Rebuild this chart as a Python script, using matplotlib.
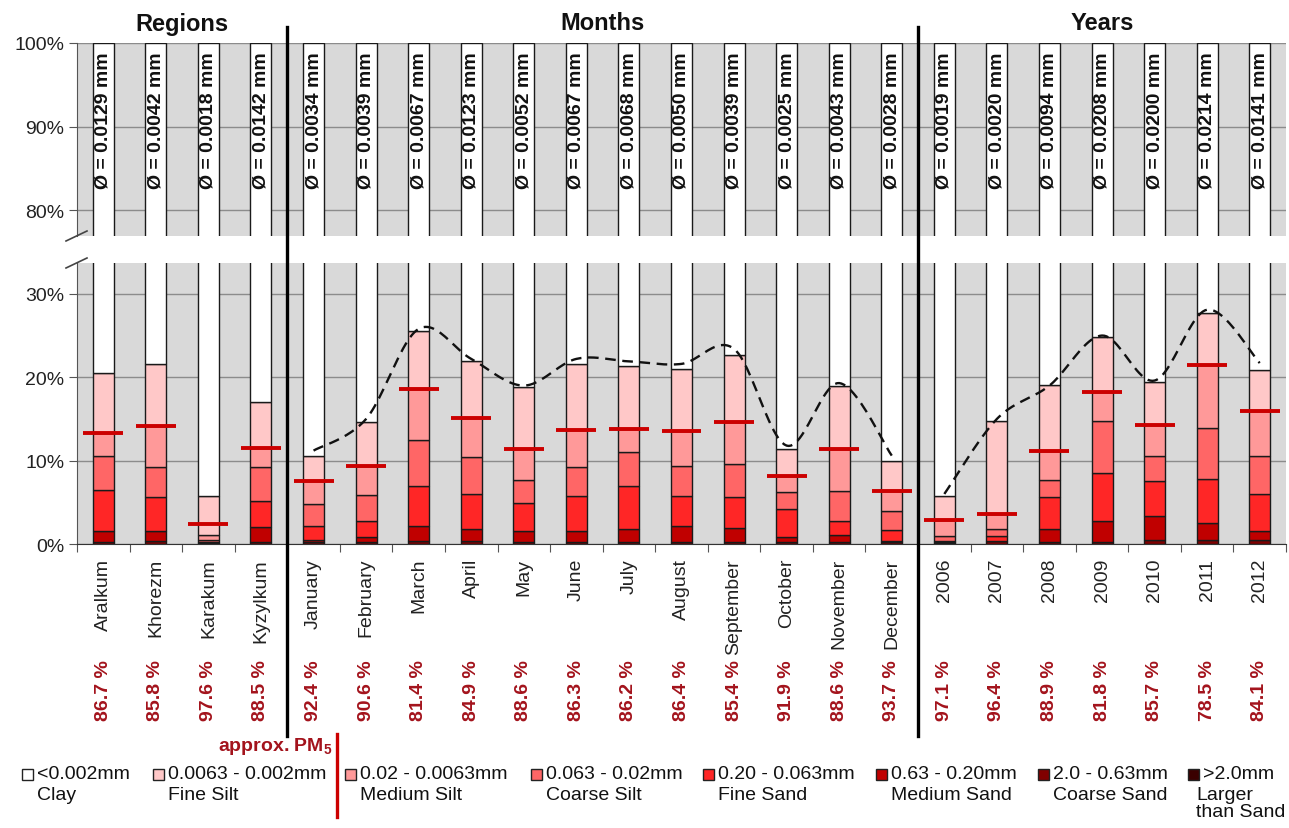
import numpy as np
import matplotlib
matplotlib.use("Agg")
import matplotlib.pyplot as plt
from matplotlib.patches import Rectangle
from matplotlib.lines import Line2D
from matplotlib.transforms import blended_transform_factory

plt.rcParams['font.family'] = ['Liberation Sans', 'DejaVu Sans']
plt.rcParams['mathtext.fontset'] = 'custom'
plt.rcParams['mathtext.rm'] = 'Liberation Sans'
plt.rcParams['mathtext.bf'] = 'Liberation Sans:bold'

# ---------------------------------------------------------------- data
categories = ['Aralkum', 'Khorezm', 'Karakum', 'Kyzylkum',
              'January', 'February', 'March', 'April', 'May', 'June', 'July',
              'August', 'September', 'October', 'November', 'December',
              '2006', '2007', '2008', '2009', '2010', '2011', '2012']
group_names = ['Regions', 'Months', 'Years']
group_sizes = [4, 12, 7]

# grain-size fractions in % (coarsest first)
larger_than_sand = [0.05, 0.05, 0.02, 0.05, 0.05, 0.05, 0.05, 0.05, 0.05, 0.05, 0.05, 0.05,
                    0.05, 0.05, 0.05, 0.05, 0.05, 0.05, 0.05, 0.05, 0.05, 0.05, 0.05]
coarse_sand = [0.15, 0.25, 0.03, 0.15, 0.15, 0.15, 0.25, 0.25, 0.15, 0.15, 0.15, 0.15,
               0.15, 0.15, 0.15, 0.15, 0.10, 0.25, 0.15, 0.15, 0.40, 0.40, 0.40]
medium_sand = [1.4, 1.3, 0.05, 1.8, 0.3, 0.6, 1.9, 1.5, 1.4, 1.4, 1.6, 1.9,
               1.7, 0.6, 0.9, 0.2, 0.1, 0.1, 1.6, 2.5, 2.85, 2.05, 1.05]
fine_sand = [4.9, 4.0, 0.1, 3.2, 1.6, 1.9, 4.8, 4.2, 3.3, 4.2, 5.2, 3.7,
             3.7, 3.4, 1.7, 1.3, 0.15, 0.6, 3.8, 5.8, 4.2, 5.3, 4.5]
coarse_silt = [4.0, 3.6, 0.3, 4.0, 2.7, 3.2, 5.5, 4.4, 2.8, 3.4, 4.0, 3.5,
               4.0, 2.0, 3.5, 2.3, 0.6, 0.8, 2.1, 6.2, 3.1, 6.1, 4.5]
medium_silt = [2.8, 5.0, 0.6, 2.3, 2.8, 3.5, 6.1, 4.7, 3.7, 4.5, 2.8, 4.3,
               5.0, 1.9, 5.1, 2.3, 1.9, 1.8, 3.4, 3.5, 3.7, 7.6, 5.4]
fine_silt = [7.2, 7.4, 4.6, 5.5, 3.0, 5.2, 6.9, 6.8, 7.4, 7.9, 7.5, 7.4,
             8.1, 3.3, 7.5, 3.6, 2.8, 11.1, 8.0, 6.6, 5.1, 6.2, 5.0]

# share of particles finer than approx. PM5 (%)
pm5_share = [86.7, 85.8, 97.6, 88.5, 92.4, 90.6, 81.4, 84.9, 88.6, 86.3, 86.2, 86.4,
             85.4, 91.9, 88.6, 93.7, 97.1, 96.4, 88.9, 81.8, 85.7, 78.5, 84.1]

# mean grain diameter (mm)
mean_diameter = [0.0129, 0.0042, 0.0018, 0.0142, 0.0034, 0.0039, 0.0067, 0.0123,
                 0.0052, 0.0067, 0.0068, 0.0050, 0.0039, 0.0025, 0.0043, 0.0028,
                 0.0019, 0.0020, 0.0094, 0.0208, 0.0200, 0.0214, 0.0141]

# trend of the non-clay share for months and years (%)
month_trend = [11.2, 15.0, 25.8, 22.2, 19.0, 22.2, 21.9, 21.6, 23.4, 11.8, 19.3, 10.6]
year_trend = [6.0, 15.0, 19.0, 25.0, 19.6, 28.1, 21.7]

fractions = [larger_than_sand, coarse_sand, medium_sand, fine_sand,
             coarse_silt, medium_silt, fine_silt]
frac_colors = ['#3A0000', '#800000', '#C00000', '#FF2626',
               '#FF6666', '#FF9999', '#FFC8C8']

legend_entries = [
    ('<0.002mm', 'Clay', '#FFFFFF'),
    ('0.0063 - 0.002mm', 'Fine Silt', '#FFC8C8'),
    ('0.02 - 0.0063mm', 'Medium Silt', '#FF9999'),
    ('0.063 - 0.02mm', 'Coarse Silt', '#FF6666'),
    ('0.20 - 0.063mm', 'Fine Sand', '#FF2626'),
    ('0.63 - 0.20mm', 'Medium Sand', '#C00000'),
    ('2.0 - 0.63mm', 'Coarse Sand', '#800000'),
    ('>2.0mm', 'Larger\nthan Sand', '#3A0000'),
]


def catmull_rom(xs, ys, n=24):
    pts = np.column_stack([xs, ys]).astype(float)
    p = np.vstack([pts[0], pts, pts[-1]])
    out = []
    t = np.linspace(0, 1, n, endpoint=False)[:, None]
    for i in range(1, len(p) - 2):
        p0, p1, p2, p3 = p[i - 1], p[i], p[i + 1], p[i + 2]
        seg = 0.5 * (2 * p1 + (-p0 + p2) * t + (2 * p0 - 5 * p1 + 4 * p2 - p3) * t ** 2
                     + (-p0 + 3 * p1 - 3 * p2 + p3) * t ** 3)
        out.append(seg)
    out.append(pts[-1][None])
    return np.vstack(out)


# ---------------------------------------------------------------- figure
W, H = 1289, 829
fig = plt.figure(figsize=(W / 100, H / 100), dpi=100)


def fx(px):
    return px / W


def fy(py):
    return 1 - py / H


left, right = 77, 1286
ax_up = fig.add_axes([fx(left), fy(237), fx(right - left), (237 - 44) / H])
ax_lo = fig.add_axes([fx(left), fy(545), fx(right - left), (545 - 264) / H])

n = len(categories)
x = np.arange(n)
bar_w = 0.40
grid_col = '#8C8C8C'
edge_col = '#1A1A1A'
tick_col = '#222222'

for ax in (ax_up, ax_lo):
    ax.set_facecolor('#D9D9D9')
    ax.set_xlim(-0.5, n - 0.5)
    for s in ('top', 'right'):
        ax.spines[s].set_visible(False)
    ax.spines['left'].set_color('#555555')
    ax.yaxis.grid(True, color=grid_col, linewidth=1.0)
    ax.set_axisbelow(True)
    ax.tick_params(axis='y', direction='out', length=6, color='#555555',
                   labelsize=14, labelcolor=tick_col, pad=3)
    ax.yaxis.set_major_formatter(plt.FuncFormatter(lambda v, p: f'{v:.0f}%'))

ax_up.set_ylim(76.9, 100)
ax_up.set_yticks([80, 90, 100])
ax_up.spines['bottom'].set_visible(False)
ax_up.set_xticks([])

ax_lo.set_ylim(0, 33.7)
ax_lo.set_yticks([0, 10, 20, 30])
ax_lo.spines['bottom'].set_color('#333333')
ax_lo.set_xticks(np.arange(-0.5, n), minor=False)
ax_lo.set_xticklabels([])
ax_lo.set_xticks(x, categories, minor=True, rotation=90)
ax_lo.tick_params(axis='x', which='major', direction='out', length=6, color='#555555')
ax_lo.tick_params(axis='x', which='minor', length=0, pad=10, labelsize=14,
                  labelcolor=tick_col)

# stacked bars
for ax in (ax_up, ax_lo):
    bottom = np.zeros(n)
    for vals, col in zip(fractions, frac_colors):
        vals = np.asarray(vals)
        ax.bar(x, vals, bar_w, bottom=bottom, color=col, edgecolor=edge_col,
               linewidth=1.0, zorder=2)
        bottom = bottom + vals
    ax.bar(x, 100 - bottom, bar_w, bottom=bottom, color='white',
           edgecolor=edge_col, linewidth=1.0, zorder=2)

# PM5 markers
pm5_level = 100 - np.asarray(pm5_share)
ax_lo.hlines(pm5_level, x - 0.38, x + 0.38, color='#CC0000', linewidth=2.8, zorder=4)

# trend lines
idx = np.cumsum([0] + group_sizes)
for trend, start in ((month_trend, idx[1]), (year_trend, idx[2])):
    xs = np.arange(start, start + len(trend))
    curve = catmull_rom(xs, trend)
    ax_lo.plot(curve[:, 0], curve[:, 1], color='#111111', linewidth=1.7,
               linestyle=(0, (4.5, 2.8)), zorder=3)

# diameter labels
for xi, d in zip(x, mean_diameter):
    ax_up.text(xi, 90.8, f'Ø = {d:.4f} mm', rotation=90, ha='center', va='center',
               fontsize=14, fontweight='bold', color='#111111', zorder=5)

# PM5 share labels
bt = blended_transform_factory(ax_lo.transData, ax_lo.transAxes)
for xi, v in zip(x, pm5_share):
    ax_lo.text(xi, (545 - 660) / 281, f'{v:.1f} %', rotation=90, ha='center',
               va='top', fontsize=14, fontweight='bold', color='#A3131C',
               transform=bt, clip_on=False)

# group headings
bt_up = blended_transform_factory(ax_up.transData, ax_up.transAxes)
for name, a, b in zip(group_names, idx[:-1], idx[1:]):
    ax_up.text((a + b - 1) / 2, 1 + (44 - 24) / 193, name, ha='center', va='center',
               fontsize=17, fontweight='bold', color='#111111', transform=bt_up)

# group separators
sep_tr = blended_transform_factory(ax_lo.transData, fig.transFigure)
for b in idx[1:-1]:
    fig.add_artist(Line2D([b - 0.5, b - 0.5], [fy(28), fy(737)], color='black',
                          linewidth=2.4, transform=sep_tr, zorder=10))

# axis break marks
for yb in (237, 264):
    fig.add_artist(Line2D([fx(left - 11), fx(left + 10)], [fy(yb + 5), fy(yb - 5)],
                          color='#444444', linewidth=1.2, zorder=10))

# legend
sq_x = [22, 153, 345, 531, 703, 876, 1038, 1188]
name_dx = [15, 15, 15, 15, 15, 15, 15, 8]
line1, line2 = 775, 797
for sx, ndx, (rng, name, col) in zip(sq_x, name_dx, legend_entries):
    fig.add_artist(Rectangle((fx(sx), fy(line1 + 6)), fx(11), 11 / H,
                             facecolor=col, edgecolor='#222222', linewidth=1.0,
                             transform=fig.transFigure))
    fig.text(fx(sx + 15), fy(line1), rng, ha='left', va='center', fontsize=14,
             color='#111111')
    fig.text(fx(sx + ndx), fy(line2 - 10), name, ha='left', va='top', fontsize=14,
             color='#111111', linespacing=1.0)

fig.add_artist(Line2D([fx(337), fx(337)], [fy(735), fy(818)], color='#CC0000',
                      linewidth=2.4))
fig.text(fx(333), fy(747), r'approx. PM$_\mathbf{5}$', ha='right', va='center',
         fontsize=14, fontweight='bold', color='#A3131C')

fig.savefig('out.png', dpi=100)
